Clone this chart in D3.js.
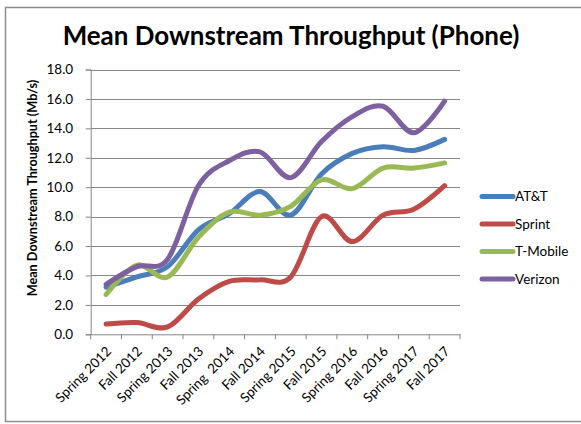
<!DOCTYPE html>
<html>
<head>
<meta charset="utf-8">
<script src="https://cdn.jsdelivr.net/npm/d3@7"></script>
<style>
  html, body { margin: 0; padding: 0; background: #fff; }
  svg { display: block; }
  text { font-family: Lato, "Open Sans", sans-serif; fill: #000; }
</style>
</head>
<body>
<svg id="chart" width="581" height="424"></svg>
<script>
const categories = ["Spring 2012", "Fall 2012", "Spring 2013", "Fall 2013", "Spring  2014", "Fall 2014",
                    "Spring 2015", "Fall 2015", "Spring 2016", "Fall 2016", "Spring 2017", "Fall 2017"];
const att     = [3.2, 3.9, 4.6, 7.1, 8.2, 9.7, 8.1, 10.9, 12.3, 12.75, 12.5, 13.25];
const sprint  = [0.7, 0.8, 0.5, 2.4, 3.6, 3.7, 3.9, 8.0, 6.3, 8.1, 8.5, 10.1];
const tmobile = [2.7, 4.7, 3.9, 6.6, 8.3, 8.1, 8.7, 10.5, 9.9, 11.3, 11.3, 11.65];
const verizon = [3.4, 4.6, 5.1, 10.1, 11.8, 12.4, 10.65, 13.1, 14.8, 15.5, 13.7, 15.85];
const yTicks  = [0, 2, 4, 6, 8, 10, 12, 14, 16, 18];
const seriesNames = ["AT&T", "Sprint", "T-Mobile", "Verizon"];
const seriesData  = [att, sprint, tmobile, verizon];
const colors = ["#4A7EBB", "#BE4B48", "#98B954", "#7D60A0"];

const svg = d3.select("#chart");
const gridColor = "#868686";

// outer border
svg.append("rect").attr("x", 5.5).attr("y", 7.5).attr("width", 580).attr("height", 414)
  .attr("fill", "none").attr("stroke", "#8c8c8c").attr("stroke-width", 1.5);

const plot = { left: 90.7, right: 460, top: 69.5, bottom: 334.3 };

const x = d3.scaleBand().domain(categories).range([plot.left, plot.right]).padding(0);
const y = d3.scaleLinear().domain([0, 18]).range([plot.bottom, plot.top]);

// gridlines
svg.append("g").selectAll("line").data(yTicks.filter(d => d > 0)).join("line")
  .attr("x1", plot.left).attr("x2", plot.right)
  .attr("y1", d => Math.round(y(d)) + 0.5).attr("y2", d => Math.round(y(d)) + 0.5)
  .attr("stroke", gridColor).attr("stroke-width", 1);

// y axis
const yAxis = svg.append("g").attr("transform", `translate(${plot.left},0)`)
  .call(d3.axisLeft(y).tickValues(yTicks).tickFormat(d3.format(".1f")).tickSize(5).tickPadding(12.5));
yAxis.select(".domain").attr("stroke", gridColor);
yAxis.selectAll(".tick line").attr("stroke", gridColor);
yAxis.selectAll("text").attr("font-size", 13.5).attr("font-family", "Lato, sans-serif").attr("fill", "#000");

// x axis
const xAxis = svg.append("g").attr("transform", `translate(0,${plot.bottom})`)
  .call(d3.axisBottom(x).tickSize(0).tickFormat(""));
xAxis.select(".domain").attr("stroke", gridColor);
// tick marks at band boundaries
const bounds = categories.map(c => x(c)).concat([plot.right]);
svg.append("g").selectAll("line").data(bounds).join("line")
  .attr("x1", d => d).attr("x2", d => d)
  .attr("y1", plot.bottom).attr("y2", plot.bottom + 5)
  .attr("stroke", gridColor);

// x labels
svg.append("g").selectAll("text").data(categories).join("text")
  .attr("transform", d => `translate(${x(d) + x.bandwidth() / 2 + 6},${plot.bottom + 18}) rotate(-45)`)
  .attr("text-anchor", "end")
  .attr("font-size", 13.5)
  .attr("xml:space", "preserve")
  .style("white-space", "pre")
  .text(d => d);

// lines
const line = d3.line()
  .x((d, i) => x(categories[i]) + x.bandwidth() / 2)
  .y(d => y(d))
  .curve(d3.curveCardinal.tension(0));

svg.append("g").selectAll("path").data(seriesData).join("path")
  .attr("d", d => line(d))
  .attr("fill", "none")
  .attr("stroke", (d, i) => colors[i])
  .attr("stroke-width", 5)
  .attr("stroke-linecap", "round")
  .attr("stroke-linejoin", "round");

// title
const title = svg.append("text")
  .attr("x", 291).attr("y", 45)
  .attr("text-anchor", "middle")
  .attr("font-weight", "bold")
  .attr("font-size", 22)
  .text("Mean Downstream Throughput (Phone)");
const tw = title.node().getComputedTextLength();
title.attr("font-size", 22 * 457 / tw);

// y axis title
const yt = svg.append("text")
  .attr("transform", "translate(37,188) rotate(-90)")
  .attr("text-anchor", "middle")
  .attr("font-weight", "bold")
  .attr("font-size", 12.5)
  .text("Mean Downstream Throughput (Mb/s)");
const yw = yt.node().getComputedTextLength();
yt.attr("font-size", 12.5 * 217 / yw);

// legend
const legend = svg.append("g");
const ly0 = 196.5, lstep = 27.5;
seriesNames.forEach((name, i) => {
  const yy = ly0 + i * lstep;
  legend.append("line").attr("x1", 482).attr("x2", 513).attr("y1", yy).attr("y2", yy)
    .attr("stroke", colors[i]).attr("stroke-width", 5).attr("stroke-linecap", "round");
  legend.append("text").attr("x", 515).attr("y", yy + 4.5).attr("font-size", 13.5).text(name);
});
</script>
</body>
</html>
